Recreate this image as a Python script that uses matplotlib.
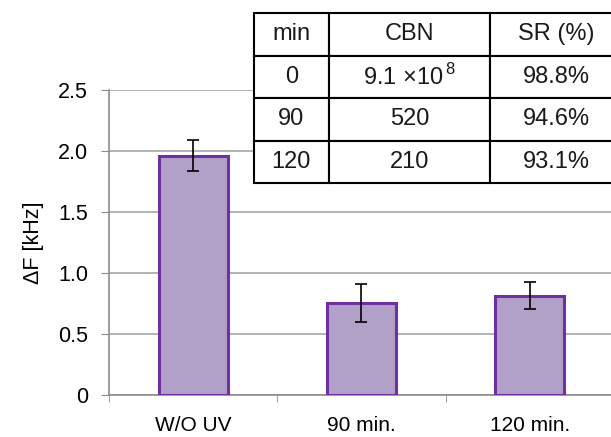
import matplotlib.pyplot as plt
from matplotlib.ticker import FixedLocator

# dados
categorias = ['W/O UV', '90 min.', '120 min.']
delta_f = [1.96, 0.755, 0.813]
erros = [0.13, 0.155, 0.11]

tab_colunas = ['min', 'CBN', 'SR (%)']
tab_min = ['0', '90', '120']
tab_cbn = ['9.1 ×10$^{\\,8}$', '520', '210']
tab_sr = ['98.8%', '94.6%', '93.1%']

yticks = [0, 0.5, 1.0, 1.5, 2.0, 2.5]
ylabels = ['0', '0.5', '1.0', '1.5', '2.0', '2.5']

plt.rcParams['font.family'] = ['Liberation Sans', 'DejaVu Sans']
plt.rcParams['mathtext.fontset'] = 'custom'
plt.rcParams['mathtext.rm'] = 'Liberation Sans'

fig = plt.figure(figsize=(6.11, 4.37), dpi=100)
ax = fig.add_axes([0.1784, 0.0961, 0.8265, 0.699])

x = range(len(categorias))
ax.bar(x, delta_f, width=0.41, color='#B1A0C7', edgecolor='#7030A0',
       linewidth=2.2, zorder=3)
ax.errorbar(x, delta_f, yerr=erros, fmt='none', ecolor='black',
            elinewidth=1.2, capsize=4, capthick=1.2, zorder=4)

ax.set_xlim(-0.5, 2.5)
ax.set_ylim(0, 2.5)
ax.set_yticks(yticks)
ax.set_yticklabels(ylabels, fontsize=15.5)
ax.set_xticks(list(x))
ax.set_xticklabels(categorias, fontsize=15)
ax.tick_params(axis='x', which='major', length=0, pad=15)
ax.xaxis.set_minor_locator(FixedLocator([-0.5, 0.5, 1.5, 2.5]))
ax.tick_params(axis='x', which='minor', length=5, color='#8C8C8C', direction='out')
ax.tick_params(axis='y', length=6, color='#8C8C8C', direction='out', pad=9)
ax.yaxis.grid(True, color='#A6A6A6', linewidth=1.2, zorder=0)
ax.set_axisbelow(True)
for lado in ['top', 'right']:
    ax.spines[lado].set_visible(False)
for lado in ['left', 'bottom']:
    ax.spines[lado].set_color('#8C8C8C')
    ax.spines[lado].set_linewidth(1.2)
ax.set_ylabel('ΔF [kHz]', fontsize=15.5, labelpad=10)

# tabela
linhas = [[m, c, s] for m, c, s in zip(tab_min, tab_cbn, tab_sr)]
tab = ax.table(cellText=linhas, colLabels=tab_colunas, cellLoc='center',
               colWidths=[0.203, 0.436, 0.361],
               bbox=[0.287, 0.694, 0.731, 0.556])
tab.auto_set_font_size(False)
tab.set_fontsize(17)
tab.set_zorder(10)
for cel in tab.get_celld().values():
    cel.set_edgecolor('black')
    cel.set_linewidth(1.5)
    cel.set_facecolor('white')
    cel.set_clip_on(False)
    cel.get_text().set_color('#1A1A1A')

fig.savefig('out.png', dpi=100)
